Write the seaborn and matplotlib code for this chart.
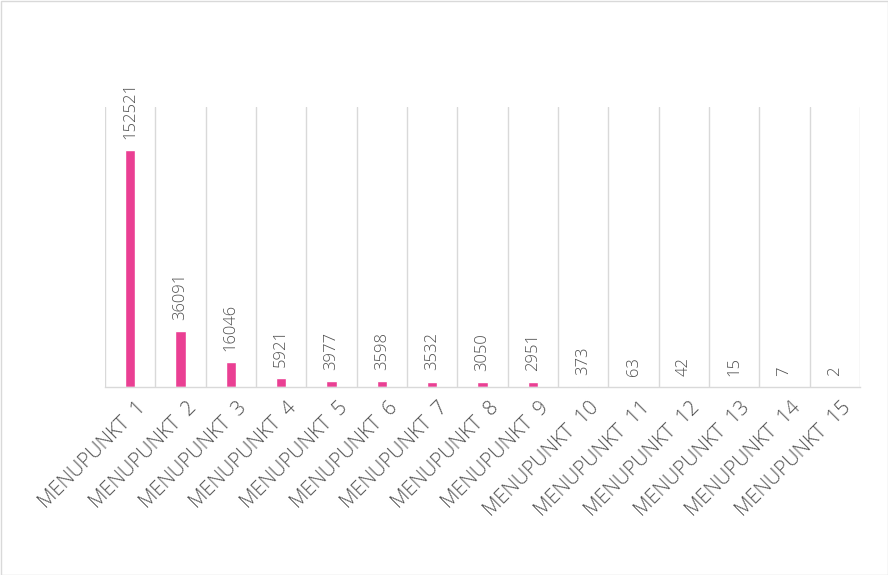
import matplotlib
matplotlib.use("Agg")
import matplotlib.pyplot as plt
import matplotlib.transforms as mtransforms
import seaborn as sns
import pandas as pd
from matplotlib.patches import Rectangle

categories = [f"MENUPUNKT  {i}" for i in range(1, 16)]
values = [152521, 36091, 16046, 5921, 3977, 3598, 3532, 3050, 2951, 373, 63, 42, 15, 7, 2]

sns.set_theme(style="white")
plt.rcParams['font.family'] = ['Open Sans', 'DejaVu Sans']

df = pd.DataFrame({"cat": categories, "val": values})

fig = plt.figure(figsize=(8.88, 5.75), dpi=100)
ax = fig.add_axes([105/888, 1-387/575, 755/888, 280/575])
sns.barplot(data=df, x="cat", y="val", color="#EA3F93", width=0.2, ax=ax, saturation=1)

ax.set_ylim(0, 180000)
ax.set_xlim(-0.5, len(categories) - 0.5)
ax.set_xlabel("")
ax.set_ylabel("")
ax.set_yticks([])
for s in ["top", "left", "right"]:
    ax.spines[s].set_visible(False)
ax.spines["bottom"].set_color("#D9D9D9")
ax.spines["bottom"].set_linewidth(1)
for i in range(len(categories) + 1):
    ax.axvline(i - 0.5, color="#D9D9D9", lw=1, zorder=0)

ax.set_xticks(range(len(categories)))
ax.set_xticklabels(categories, rotation=45, ha="right", rotation_mode="anchor",
                   fontsize=14.5, color="#505050", fontweight="light")
ax.tick_params(axis="x", length=0, pad=8)
offset = mtransforms.ScaledTranslation(6/100, 0, fig.dpi_scale_trans)
for t in ax.get_xticklabels():
    t.set_transform(t.get_transform() + offset)

for i, v in enumerate(values):
    ax.annotate(str(v), (i, v), xytext=(0, 8), textcoords="offset points",
                rotation=90, ha="center", va="bottom", fontsize=12, color="#505050",
                fontweight="light")

fig.add_artist(Rectangle((0.5/888, 0.5/575), 1-1/888, 1-1/575, transform=fig.transFigure,
                         fill=False, edgecolor="#D9D9D9", lw=1))
fig.savefig("out.png", dpi=100)
